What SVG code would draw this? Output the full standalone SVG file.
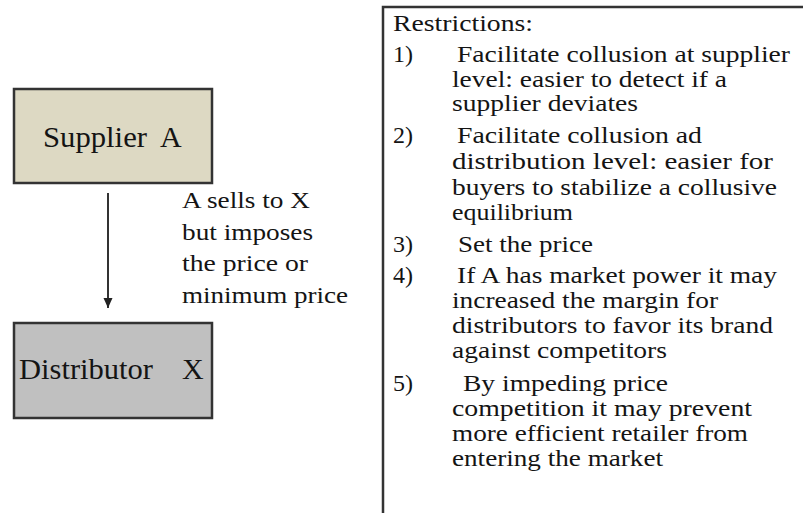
<svg xmlns="http://www.w3.org/2000/svg" width="803" height="513" viewBox="0 0 803 513">
<style>
text{font-family:"Liberation Serif","Times New Roman",serif;fill:#141414}
.big{font-size:30px}
.lbl{font-size:24px}
.r{font-size:24px}
.box{stroke:#333;stroke-width:2.5}
.edge{stroke:#333;stroke-width:2;fill:none}
</style>
<defs>
<marker id="ah" markerWidth="10" markerHeight="10" refX="10" refY="5" orient="auto" markerUnits="userSpaceOnUse">
<path d="M0,0.5 L10,5 L0,9.5 z" fill="#222"/>
</marker>
</defs>
<rect width="803" height="513" fill="#fff"/>
<g id="supplier">
<rect class="box" x="14" y="89" width="198" height="94" fill="#ddd9c3"/>
<text class="big" x="43" y="147" textLength="104" lengthAdjust="spacingAndGlyphs">Supplier</text>
<text class="big" x="160" y="147">A</text>
</g>
<g id="distributor">
<rect class="box" x="14" y="323" width="198" height="95" fill="#c0c0c0"/>
<text class="big" x="19" y="379" textLength="134" lengthAdjust="spacingAndGlyphs">Distributor</text>
<text class="big" x="182" y="379">X</text>
</g>
<g id="connectors">
<line class="edge" x1="108" y1="193" x2="108" y2="308" marker-end="url(#ah)"/>
</g>
<g id="label">
<text class="lbl" x="182" y="208" textLength="128" lengthAdjust="spacingAndGlyphs">A sells to X</text>
<text class="lbl" x="182" y="240" textLength="131" lengthAdjust="spacingAndGlyphs">but imposes</text>
<text class="lbl" x="182" y="271" textLength="126" lengthAdjust="spacingAndGlyphs">the price or</text>
<text class="lbl" x="182" y="303" textLength="166" lengthAdjust="spacingAndGlyphs">minimum price</text>
</g>
<g id="restrictions">
<path d="M383,520 L383,7 L810,7" fill="none" stroke="#333" stroke-width="2.5"/>
<text class="r" x="393" y="31" textLength="140" lengthAdjust="spacingAndGlyphs">Restrictions:</text>
<text class="r" x="393" y="62">1)</text>
<text class="r" x="457" y="62" textLength="333" lengthAdjust="spacingAndGlyphs">Facilitate collusion at supplier</text>
<text class="r" x="452" y="87" textLength="275" lengthAdjust="spacingAndGlyphs">level: easier to detect if a</text>
<text class="r" x="452" y="111" textLength="186" lengthAdjust="spacingAndGlyphs">supplier deviates</text>
<text class="r" x="393" y="143">2)</text>
<text class="r" x="457" y="143" textLength="245" lengthAdjust="spacingAndGlyphs">Facilitate collusion ad</text>
<text class="r" x="452" y="169" textLength="321" lengthAdjust="spacingAndGlyphs">distribution level: easier for</text>
<text class="r" x="452" y="195" textLength="325" lengthAdjust="spacingAndGlyphs">buyers to stabilize a collusive</text>
<text class="r" x="452" y="220" textLength="121" lengthAdjust="spacingAndGlyphs">equilibrium</text>
<text class="r" x="393" y="252">3)</text>
<text class="r" x="458" y="252" textLength="135" lengthAdjust="spacingAndGlyphs">Set the price</text>
<text class="r" x="393" y="283">4)</text>
<text class="r" x="457" y="283" textLength="320" lengthAdjust="spacingAndGlyphs">If A has market power it may</text>
<text class="r" x="452" y="308" textLength="266" lengthAdjust="spacingAndGlyphs">increased the margin for</text>
<text class="r" x="452" y="333" textLength="321" lengthAdjust="spacingAndGlyphs">distributors to favor its brand</text>
<text class="r" x="452" y="358" textLength="215" lengthAdjust="spacingAndGlyphs">against competitors</text>
<text class="r" x="393" y="391">5)</text>
<text class="r" x="463" y="391" textLength="205" lengthAdjust="spacingAndGlyphs">By impeding price</text>
<text class="r" x="452" y="416" textLength="300" lengthAdjust="spacingAndGlyphs">competition it may prevent</text>
<text class="r" x="452" y="441" textLength="296" lengthAdjust="spacingAndGlyphs">more efficient retailer from</text>
<text class="r" x="452" y="466" textLength="211" lengthAdjust="spacingAndGlyphs">entering the market</text>
</g>
</svg>
